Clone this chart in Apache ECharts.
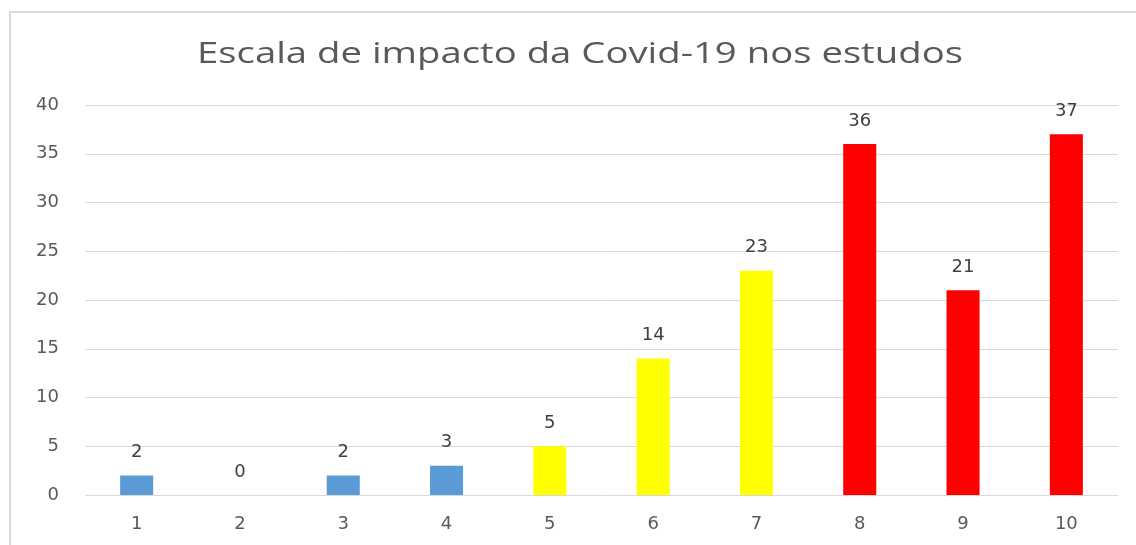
<!DOCTYPE html>
<html><head><meta charset="utf-8">
<script src="https://cdn.jsdelivr.net/npm/echarts@6/dist/echarts.min.js"></script>
<style>html,body{margin:0;padding:0;background:#fff}#c{width:1136px;height:545px}</style>
</head><body><div id="c"></div>
<script>
const titleText = 'Escala de impacto da Covid-19 nos estudos';
const categories = ['1','2','3','4','5','6','7','8','9','10'];
const values = [2,0,2,3,5,14,23,36,21,37];
const barColors = ['#5b9bd5','#5b9bd5','#5b9bd5','#5b9bd5','#ffff00','#ffff00','#ffff00','#ff0000','#ff0000','#ff0000'];
const chart = echarts.init(document.getElementById('c'));
chart.setOption({
  animation:false,
  backgroundColor:'#fff',
  graphic:[
    {type:'rect',shape:{x:10,y:12,width:1140,height:560},style:{fill:'none',stroke:'#d9d9d9',lineWidth:2},silent:true},
    {type:'text',x:580,y:55,scaleX:1.32,silent:true,
     style:{text:titleText,font:'29px "Open Sans"',fill:'#595959',textAlign:'center',textVerticalAlign:'middle'}}
  ],
  grid:{left:85,right:18,top:105,bottom:50,containLabel:false},
  xAxis:{type:'category',data:categories,axisLine:{show:false},axisTick:{show:false},
    axisLabel:{color:'#595959',fontFamily:'DejaVu Sans',fontSize:18,margin:20}},
  yAxis:{type:'value',min:0,max:40,interval:5,axisLine:{show:false},axisTick:{show:false},
    splitLine:{lineStyle:{color:'#d9d9d9',width:1}},
    axisLabel:{color:'#595959',fontFamily:'DejaVu Sans',fontSize:18,margin:26,align:'right'}},
  series:[{type:'bar',data:values.map((v,i)=>({value:v,itemStyle:{color:barColors[i]}})),
    barWidth:'32%',
    label:{show:true,position:'top',distance:14,color:'#404040',fontFamily:'DejaVu Sans',fontSize:18}}]
});
</script></body></html>
